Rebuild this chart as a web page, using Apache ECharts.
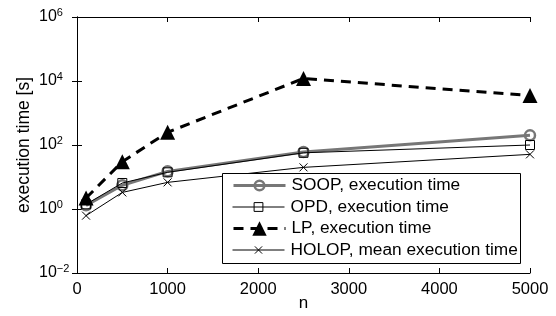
<!DOCTYPE html>
<html>
<head>
<meta charset="utf-8">
<script src="https://cdn.jsdelivr.net/npm/echarts@6/dist/echarts.min.js"></script>
<style>
  html, body { margin: 0; padding: 0; background: #fff; }
  #chart { width: 556px; height: 316px; }
</style>
</head>
<body>
<div id="chart"></div>
<script>
// problem size n
const sizes = [100, 500, 1000, 2500, 5000];
// execution times [s]
const soopTime = [1.3, 5.5, 15, 60, 200];
const opdTime = [1.4, 6.5, 14, 57, 100];
const lpTime = [2.2, 30, 250, 12000, 3500];
const holopTime = [0.62, 3.3, 6.8, 20, 51];
const names = ['SOOP, execution time', 'OPD, execution time', 'LP, execution time', 'HOLOP, mean execution time'];

const font = 'Liberation Sans';

const pairs = (ys) => sizes.map((x, i) => [x, ys[i]]);

const chart = echarts.init(document.getElementById('chart'));

const yLabel = function (v) {
    const e = Math.round(Math.log10(v));
    return '{b|10}{s|' + (e < 0 ? '\u2212' + (-e) : e) + '}';
};

const styles = [{
    line: {color: '#777', width: 3, type: 'solid'},
    item: {color: 'rgba(255,255,255,0)', borderColor: '#777', borderWidth: 2.5},
    symbol: 'circle', size: 10, iconH: 12
}, {
    line: {color: '#000', width: 1, type: 'solid'},
    item: {color: 'rgba(255,255,255,0)', borderColor: '#000', borderWidth: 1},
    symbol: 'rect', size: 9, iconH: 11
}, {
    line: {color: '#000', width: 3, type: [10, 7]},
    item: {color: '#000', borderWidth: 0},
    symbol: 'triangle', size: 15, iconH: 18
}, {
    line: {color: '#000', width: 1, type: 'solid'},
    item: {color: '#000', borderColor: '#000', borderWidth: 1},
    symbol: 'path://M0,0L10,10M10,0L0,10', size: 8, iconH: 9
}];

// one legend per entry so each can get its own marker size
const legends = names.map((name, i) => ({
    orient: 'vertical',
    left: 232,
    top: 177 + 21.5 * i,
    padding: 0,
    itemWidth: 52,
    itemHeight: styles[i].iconH,
    z: 60,
    selectedMode: false,
    textStyle: {fontSize: 17.3, color: '#000', fontFamily: font, padding: [0, 0, 0, 1]},
    lineStyle: styles[i].line,
    itemStyle: styles[i].item,
    data: [name]
}));

const option = {
    animation: false,
    textStyle: {fontFamily: font},
    grid: {left: 77, right: 26, top: 17, bottom: 43, outerBoundsMode: 'none', containLabel: false},
    graphic: [{
        type: 'rect',
        z: 50,
        shape: {x: 222.5, y: 173.5, width: 298, height: 90},
        style: {fill: '#fff', stroke: '#000', lineWidth: 1}
    }],
    xAxis: [{
        type: 'value',
        min: 0,
        max: 5000,
        interval: 1000,
        name: 'n',
        nameLocation: 'middle',
        nameGap: 22,
        nameMoveOverlap: false,
        nameTextStyle: {fontSize: 17, color: '#000', fontFamily: font},
        axisLine: {lineStyle: {color: '#000', width: 1}},
        axisTick: {inside: true, length: 5, lineStyle: {color: '#000'}},
        axisLabel: {fontSize: 16.5, color: '#000', margin: 8, fontFamily: font, formatter: v => String(v)},
        splitLine: {show: false}
    }, {
        type: 'value',
        position: 'top',
        min: 0,
        max: 5000,
        interval: 1000,
        axisLine: {show: true, lineStyle: {color: '#000', width: 1}},
        axisTick: {inside: true, length: 5, lineStyle: {color: '#000'}},
        axisLabel: {show: false},
        splitLine: {show: false}
    }],
    yAxis: [{
        type: 'log',
        logBase: 100,
        min: 0.01,
        max: 1e6,
        name: 'execution time [s]',
        nameLocation: 'middle',
        nameGap: 44,
        nameMoveOverlap: false,
        nameTextStyle: {fontSize: 17.5, color: '#000', fontFamily: font},
        axisLine: {show: true, lineStyle: {color: '#000', width: 1}},
        axisTick: {inside: true, length: 5, lineStyle: {color: '#000'}},
        axisLabel: {
            align: 'left',
            margin: 38,
            formatter: yLabel,
            rich: {
                b: {fontSize: 16, color: '#000', fontFamily: font},
                s: {fontSize: 11, color: '#000', fontFamily: font, verticalAlign: 'bottom', padding: [0, 0, 9, 0]}
            }
        },
        splitLine: {show: false},
        minorTick: {show: false}
    }, {
        type: 'log',
        logBase: 100,
        min: 0.01,
        max: 1e6,
        position: 'right',
        axisLine: {show: true, lineStyle: {color: '#000', width: 1}},
        axisTick: {inside: true, length: 5, lineStyle: {color: '#000'}},
        axisLabel: {show: false},
        splitLine: {show: false}
    }],
    legend: legends,
    series: [soopTime, opdTime, lpTime, holopTime].map((ys, i) => ({
        name: names[i],
        type: 'line',
        data: pairs(ys),
        symbol: styles[i].symbol,
        symbolSize: styles[i].size,
        color: styles[i].line.color,
        lineStyle: styles[i].line,
        itemStyle: styles[i].item,
        z: 3 + i
    }))
};

chart.setOption(option);
</script>
</body>
</html>
